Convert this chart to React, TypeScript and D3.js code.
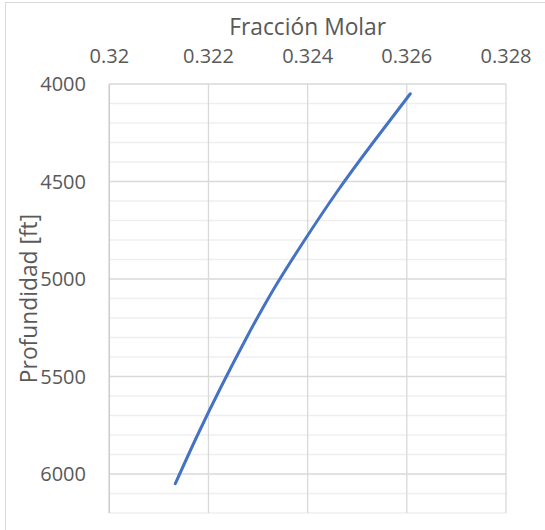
import React from "react";
import * as d3 from "d3";

const depths = [4050, 4300, 4550, 4800, 5050, 5300, 5550, 5800, 6050];
const fractions = [0.32607, 0.32532, 0.3246, 0.32394, 0.32332, 0.32277, 0.32226, 0.32178, 0.32133];
const xTicks = [0.32, 0.322, 0.324, 0.326, 0.328];
const yMajorTicks = [4000, 4500, 5000, 5500, 6000];
const yMinorTicks = d3.range(4000, 6201, 100);

const W = 545;
const H = 530;
const left = 109.3;
const right = 506;
const top = 84;
const bottom = 513;
const font = "'Open Sans', sans-serif";

export default function App() {
  const x = d3.scaleLinear().domain([0.32, 0.328]).range([left, right]);
  const y = d3.scaleLinear().domain([4000, 6200]).range([top, bottom]);
  const data = depths.map((d, i) => ({ d, f: fractions[i] }));
  const line = d3
    .line<{ d: number; f: number }>()
    .x((p) => x(p.f))
    .y((p) => y(p.d))
    .curve(d3.curveNatural);

  return (
    <svg
      width={W}
      height={H}
      style={{ position: "absolute", left: 0, top: 0, background: "#fff" }}
    >
      <rect x={5.5} y={2.5} width={W + 10} height={H + 10} fill="#fff" stroke="#d9d9d9" strokeWidth={1} />
      {yMinorTicks
        .filter((t) => !yMajorTicks.includes(t))
        .map((t) => (
          <line key={"mn" + t} x1={left} x2={right} y1={y(t)} y2={y(t)} stroke="#efefef" strokeWidth={1.3} />
        ))}
      {yMajorTicks.map((t) => (
        <line key={"mj" + t} x1={left} x2={right} y1={y(t)} y2={y(t)} stroke="#d9d9d9" strokeWidth={1.3} />
      ))}
      {xTicks.map((t) => (
        <line key={"xv" + t} x1={x(t)} x2={x(t)} y1={top} y2={bottom} stroke="#d9d9d9" strokeWidth={1.3} />
      ))}
      <line x1={left} x2={left} y1={top} y2={bottom} stroke="#cfcfcf" strokeWidth={1.5} />
      <path d={line(data) || ""} fill="none" stroke="#4472C4" strokeWidth={3} strokeLinecap="round" />
      {xTicks.map((t) => (
        <text key={"xl" + t} x={x(t)} y={63} textAnchor="middle" fontFamily={font} fontSize={20} fill="#595959">
          {d3.format("")(t)}
        </text>
      ))}
      {yMajorTicks.map((t) => (
        <text key={"yl" + t} x={86} y={y(t)} dy="0.36em" textAnchor="end" fontFamily={font} fontSize={20} fill="#595959">
          {t}
        </text>
      ))}
      <text x={(left + right) / 2} y={34.5} textAnchor="middle" fontFamily={font} fontSize={22.8} fill="#595959">
        Fracción Molar
      </text>
      <text
        transform={`translate(36.5,${(top + bottom) / 2}) rotate(-90)`}
        textAnchor="middle"
        fontFamily={font}
        fontSize={22.8}
        fill="#595959"
      >
        Profundidad [ft]
      </text>
    </svg>
  );
}
